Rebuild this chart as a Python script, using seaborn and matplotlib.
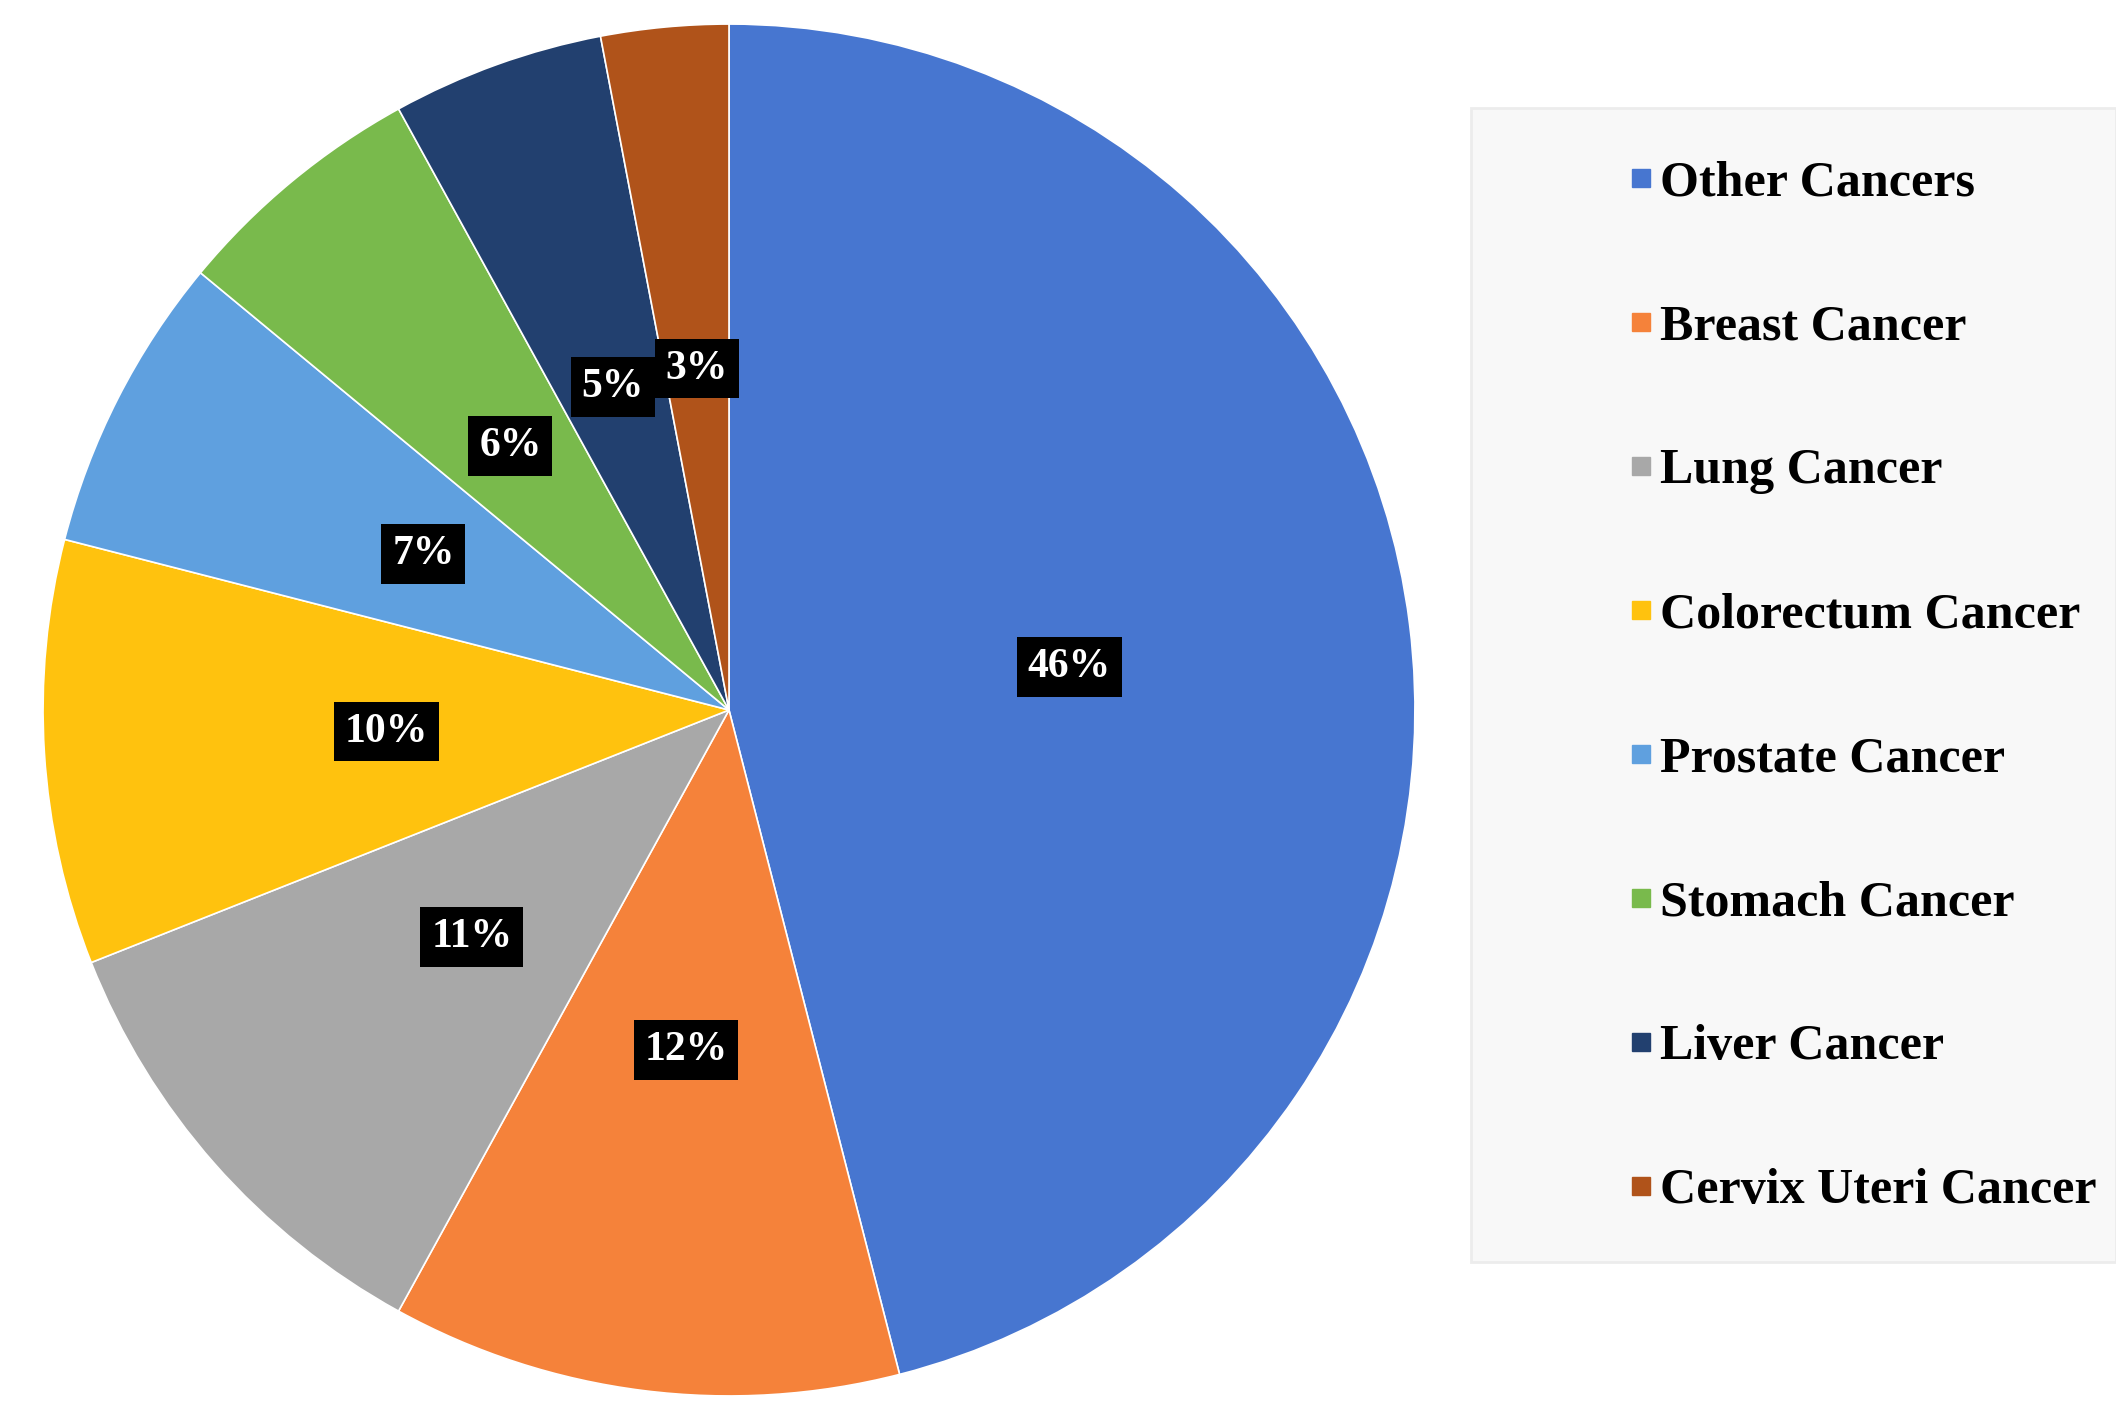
import matplotlib
matplotlib.use('Agg')
import matplotlib.pyplot as plt
import matplotlib.patches as mpatches
from matplotlib.lines import Line2D
import seaborn as sns

# Data
categories = ['Other Cancers', 'Breast Cancer', 'Lung Cancer', 'Colorectum Cancer',
              'Prostate Cancer', 'Stomach Cancer', 'Liver Cancer', 'Cervix Uteri Cancer']
shares = [46, 12, 11, 10, 7, 6, 5, 3]
colors = ['#4776D0', '#F5823A', '#A8A8A8', '#FFC20E',
          '#5FA0DF', '#79BA4C', '#22406F', '#B0531A']

sns.set_theme(style='white')
plt.rcParams['font.family'] = ['Liberation Serif', 'DejaVu Serif']
plt.rcParams['text.color'] = 'black'
palette = sns.color_palette(colors)

W, H = 2116, 1419
fig = plt.figure(figsize=(W / 100, H / 100), dpi=100)
fig.patch.set_facecolor('white')

# legend background panel
panel = mpatches.Rectangle((1471 / W, 1 - 1262 / H), (W - 1471) / W, (1262 - 108) / H,
                           transform=fig.transFigure, facecolor='#f8f8f8',
                           edgecolor='#ececec', linewidth=2, zorder=0)
fig.patches.append(panel)

# pie axes: center (729, 710) px, radius 688 px
R = 688
ax = fig.add_axes([(729 - R) / W, (H - 710 - R) / H, 2 * R / W, 2 * R / H])
wedges, texts, autotexts = ax.pie(
    shares, colors=palette, startangle=90, counterclock=False,
    autopct=lambda p: f'{p:.0f}%', pctdistance=0.5,
    wedgeprops=dict(edgecolor='white', linewidth=1.2),
    textprops=dict(color='white', fontsize=30, fontweight='bold'))
for t in autotexts:
    t.set_bbox(dict(boxstyle='square,pad=0.26', facecolor='black', edgecolor='none'))
ax.set_xlim(-1.003, 1.003)
ax.set_ylim(-1.003, 1.003)
ax.axis('off')

handles = [Line2D([], [], marker='s', linestyle='', markersize=13,
                  markerfacecolor=c, markeredgecolor=c) for c in palette]
leg = fig.legend(handles, categories, loc='center left',
                 bbox_to_anchor=(1631 / W, 1 - 687.5 / H), frameon=False,
                 prop=dict(family='Liberation Serif', weight='bold', size=36),
                 handlelength=0.4, handletextpad=0.18, labelspacing=1.96,
                 borderpad=0, borderaxespad=0)
for t in leg.get_texts():
    t.set_color('black')

fig.savefig('out.png', dpi=100, facecolor='white')
